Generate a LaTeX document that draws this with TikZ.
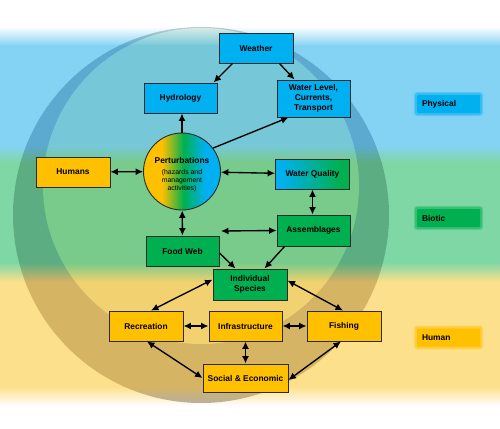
\documentclass[tikz,border=0pt]{standalone}
\usepackage{fontspec}
\setmainfont{Liberation Sans}
\usetikzlibrary{arrows.meta,calc}
\definecolor{bgblue}{HTML}{84D3F4}
\definecolor{bggreen}{HTML}{80D7A6}
\definecolor{bgyellow}{HTML}{FDE08B}
\definecolor{rwhite}{HTML}{BCCFD2}
\definecolor{rblue}{HTML}{5CAAD0}
\definecolor{rgreen}{HTML}{5CAE82}
\definecolor{ryellow}{HTML}{D5B464}
\definecolor{rbottom}{HTML}{B4AEA6}
\definecolor{iwhite}{HTML}{DCEEE4}
\definecolor{iblue}{HTML}{76C8D8}
\definecolor{igreen}{HTML}{78CB8A}
\definecolor{iyellow}{HTML}{F1D170}
\definecolor{cblu}{HTML}{00B0F0}
\definecolor{cgrn}{HTML}{00B050}
\definecolor{cyel}{HTML}{FFC000}
\definecolor{edge}{HTML}{2A2A2A}
\pgfdeclarehorizontalshading{pertshade}{100bp}{color(0bp)=(cyel); color(37bp)=(cyel); color(51bp)=(cgrn); color(65bp)=(cblu); color(100bp)=(cblu)}
\pgfdeclarehorizontalshading{wqshade}{100bp}{color(0bp)=(cblu); color(29bp)=(cblu); color(68bp)=(cgrn); color(100bp)=(cgrn)}
\newcommand{\drawbands}[5]{%
 \fill[#1] (0,0) rectangle (500,27);
 \shade[top color=#1,bottom color=#2] (0,26.5) rectangle (500,46);
 \fill[#2] (0,45.5) rectangle (500,146);
 \shade[top color=#2,bottom color=#3] (0,145.5) rectangle (500,162);
 \fill[#3] (0,161.5) rectangle (500,263);
 \shade[top color=#3,bottom color=#4] (0,262.5) rectangle (500,282);
 \fill[#4] (0,281.5) rectangle (500,387);
 \shade[top color=#4,bottom color=#5] (0,386.5) rectangle (500,406);
 \fill[#5] (0,405.5) rectangle (500,428);
}
\tikzset{
 box/.style={draw=edge, line width=0.9pt, minimum width=73pt, minimum height=30pt,
   font=\fontsize{8.4}{10}\selectfont\bfseries, align=center, inner sep=1pt},
 bluebox/.style={box, fill=cblu},
 greenbox/.style={box, fill=cgrn},
 yellowbox/.style={box, fill=cyel},
 lab/.style={text width=53pt, inner sep=5pt, minimum height=18pt, align=left,
   rounded corners=1pt, font=\fontsize{8.4}{10}\selectfont\bfseries},
 arr/.style={-{Latex[length=7.5pt,width=7pt]}, line width=1.35pt, black},
 darr/.style={{Latex[length=7.5pt,width=7pt]}-{Latex[length=7.5pt,width=7pt]}, line width=1.35pt, black},
}
\begin{document}
\begin{tikzpicture}[x=1pt,y=-1pt]
\useasboundingbox (0,0) rectangle (500,428);
% background bands
\drawbands{white}{bgblue}{bggreen}{bgyellow}{white}
% outer ring
\begin{scope}
 \clip (201,215) circle[radius=188pt];
 \drawbands{rwhite}{rblue}{rgreen}{ryellow}{rbottom}
\end{scope}
% inner circle
\begin{scope}
 \clip (201,186) circle[radius=158pt];
 \drawbands{iwhite}{iblue}{igreen}{iyellow}{iyellow}
\end{scope}
% soft halos of the legend boxes
\foreach \yy/\cc in {104/cblu, 218/cgrn, 337.5/cyel}{
  \fill[\cc, opacity=0.3, rounded corners=3pt] (414,\yy-12) rectangle (483,\yy+12);
  \fill[\cc, opacity=0.4, rounded corners=2pt] (415.2,\yy-10.8) rectangle (481.8,\yy+10.8);
}
\node[lab, fill=cblu] (Physical) at (448.5,104) {Physical};
\node[lab, fill=cgrn] (Biotic) at (448.5,218) {Biotic};
\node[lab, fill=cyel] (Human) at (448.5,337.5) {Human};
% nodes
\node[bluebox, minimum width=74pt] (Weather) at (256,48) {Weather};
\node[bluebox] (Hydrology) at (180.5,98) {Hydrology};
\node[bluebox, minimum height=37pt] (WaterLevel) at (313.5,98.5) {Water Level,\\Currents,\\Transport};
\node[circle, draw=edge, line width=0.9pt, shading=pertshade, minimum size=77pt, inner sep=0pt] (Pert) at (182,171.5) {};
\node[align=center, font=\fontsize{6.9}{7.7}\selectfont, inner sep=0pt] (PertText) at (182,174.5)
  {{\fontsize{8.4}{10}\selectfont\bfseries Perturbations}\\[3.5pt](hazards and\\management\\activities)};
\node[yellowbox, minimum width=74pt] (Humans) at (73,172) {Humans};
\node[box, shading=wqshade, minimum width=74pt] (WQ) at (312.5,174) {Water Quality};
\node[greenbox, minimum height=31pt] (Assemblages) at (313.5,230.5) {Assemblages};
\node[greenbox] (FoodWeb) at (182.5,251) {Food Web};
\node[greenbox, minimum width=74pt, minimum height=31pt] (Indiv) at (250,284.5) {Individual\\Species};
\node[yellowbox, minimum width=74pt] (Recreation) at (146,326) {Recreation};
\node[yellowbox] (Infra) at (245.5,326) {Infrastructure};
\node[yellowbox, minimum width=74pt] (Fishing) at (344,326) {Fishing};
\node[yellowbox, minimum width=85pt, minimum height=28pt] (Social) at (245.5,378) {Social \& Economic};
\coordinate (AsFree) at (221,231);
% connectors
\draw[arr] ([xshift=14pt]Weather.south west) -- ([xshift=-4pt]Hydrology.north east);
\draw[arr] ([xshift=-14pt]Weather.south east) -- ([xshift=18pt]WaterLevel.north west);
\draw[arr] (Pert.north) -- (Pert.north |- Hydrology.south);
\draw[arr] (Pert.37) -- ([xshift=12pt]WaterLevel.south west);
\draw[darr] (Humans) -- (Pert);
\draw[darr] (Pert) -- (WQ);
\draw[darr] (WQ.south) -- (WQ.south |- Assemblages.north);
\draw[darr] (Pert) -- (FoodWeb);
\draw[darr] (AsFree) -- (Assemblages.west);
\draw[arr] ([yshift=-2pt]FoodWeb.east) -- ([xshift=23pt]Indiv.north west);
\draw[arr] ([xshift=8pt]Assemblages.south west) -- ([xshift=-23pt]Indiv.north east);
\draw[darr] ([yshift=-11pt]Indiv.north west) -- ([xshift=5pt]Recreation.north);
\draw[darr] ([yshift=-12pt]Indiv.north east) -- ([xshift=-1pt]Fishing.north);
\draw[darr] (Recreation) -- (Infra);
\draw[darr] (Infra) -- (Fishing);
\draw[darr] (Infra) -- (Social);
\draw[darr] ([xshift=1pt]Recreation.south) -- (Social.west);
\draw[darr] ([xshift=-3pt]Fishing.south) -- ([yshift=-2pt]Social.east);
\end{tikzpicture}
\end{document}
